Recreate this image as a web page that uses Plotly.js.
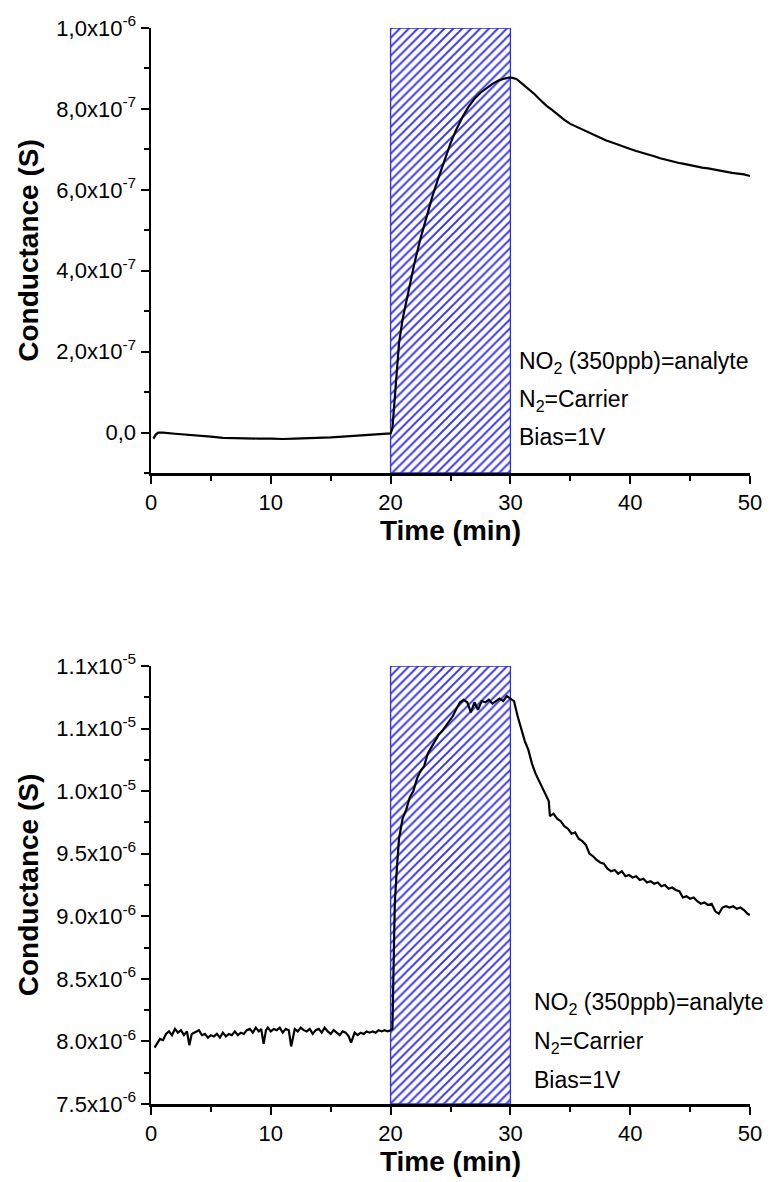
<!DOCTYPE html>
<html>
<head>
<meta charset="utf-8">
<script src="https://cdn.plot.ly/plotly-3.0.1.min.js"></script>
<style>html,body{margin:0;padding:0;background:#fff;}#chart{width:774px;height:1182px;}</style>
</head>
<body>
<div id="chart"></div>
<script>
// ---------- data ----------
const exposureStart = 20;
const exposureEnd = 30;

const topTime = [0.2,0.4,0.6,1,2,3,4,5,6,7,8,9,10,11,12,13,14,15,16,17,18,19,19.6,20.0,20.15,20.25,20.35,20.5,20.7,21,21.5,22,22.5,23,23.5,24,24.5,25,25.5,26,26.5,27,27.5,28,28.5,29,29.5,30,30.5,31,31.5,32,32.5,33,33.5,34,34.5,35,35.5,36,36.5,37,37.5,38,38.5,39,39.5,40,40.5,41,41.5,42,42.5,43,43.5,44,44.5,45,45.5,46,46.5,47,47.5,48,48.5,49,49.5,50];
// units of 1e-7 S
const topValues = [-0.15,-0.05,0.0,0.0,-0.03,-0.05,-0.08,-0.1,-0.13,-0.14,-0.14,-0.15,-0.15,-0.16,-0.15,-0.14,-0.14,-0.12,-0.1,-0.08,-0.06,-0.04,-0.03,-0.02,0.1,0.5,1.0,1.6,2.2,2.8,3.5,4.2,4.8,5.35,5.85,6.3,6.75,7.15,7.5,7.8,8.05,8.25,8.4,8.52,8.62,8.7,8.75,8.78,8.74,8.62,8.5,8.37,8.22,8.08,7.97,7.84,7.73,7.63,7.56,7.48,7.42,7.35,7.29,7.22,7.17,7.11,7.05,7.01,6.96,6.92,6.88,6.83,6.78,6.74,6.71,6.67,6.64,6.61,6.57,6.55,6.53,6.5,6.47,6.45,6.42,6.4,6.38,6.34];

const botTime = [0.3,0.5,0.75,1.0,1.25,1.5,1.75,2.0,2.25,2.5,2.75,3.0,3.2,3.4,3.75,4.0,4.25,4.5,4.75,5.0,5.25,5.5,5.75,6.0,6.25,6.5,6.75,7.0,7.25,7.5,7.75,8.0,8.25,8.5,8.75,9.0,9.2,9.4,9.6,9.75,10.0,10.25,10.5,10.75,11.0,11.25,11.5,11.7,12.0,12.25,12.5,12.75,13.0,13.25,13.5,13.75,14.0,14.25,14.5,14.75,15.0,15.25,15.5,15.75,16.0,16.25,16.5,16.7,17.0,17.25,17.5,17.75,18.0,18.25,18.5,18.75,19.0,19.25,19.5,19.75,20.0,20.15,
20.25,20.35,20.5,20.7,21.0,21.3,21.6,21.9,22.2,22.5,22.8,23.1,23.4,23.7,24.0,24.3,24.6,24.9,25.2,25.5,25.8,26.1,26.4,26.7,27.0,27.3,27.6,27.9,28.2,28.5,28.8,29.1,29.4,29.7,30.0,
30.3,30.6,30.9,31.2,31.5,31.8,32.1,32.4,32.7,33.0,33.2,33.3,33.6,33.9,34.2,34.5,34.8,35.1,35.4,35.7,36.0,36.3,36.6,36.9,37.2,37.5,37.8,38.1,38.4,38.7,39.0,39.3,39.6,39.9,40.2,40.5,40.8,41.1,41.4,41.7,42.0,42.3,42.6,42.9,43.2,43.5,43.8,44.1,44.4,44.7,45.0,45.3,45.6,45.9,46.2,46.5,46.8,47.1,47.4,47.7,48.0,48.3,48.6,48.9,49.2,49.5,49.8,50.0];
// units of 1e-6 S
const botValues = [7.95,7.98,8.02,8.01,8.06,8.08,8.05,8.10,8.07,8.09,8.05,8.08,7.97,8.06,8.08,8.09,8.05,8.06,8.03,8.05,8.04,8.06,8.03,8.07,8.04,8.06,8.05,8.08,8.05,8.07,8.06,8.09,8.10,8.07,8.11,8.08,8.10,7.98,8.09,8.11,8.08,8.10,8.09,8.11,8.07,8.10,8.09,7.96,8.10,8.08,8.11,8.09,8.08,8.10,8.06,8.09,8.10,8.07,8.11,8.08,8.06,8.09,8.07,8.05,8.08,8.07,8.04,7.99,8.07,8.05,8.07,8.06,8.08,8.07,8.08,8.07,8.09,8.08,8.09,8.08,8.09,8.10,
8.6,9.1,9.35,9.62,9.78,9.85,9.95,10.0,10.1,10.16,10.2,10.3,10.35,10.4,10.45,10.48,10.52,10.56,10.6,10.66,10.71,10.73,10.71,10.63,10.71,10.65,10.72,10.71,10.73,10.70,10.72,10.74,10.72,10.76,10.74,
10.72,10.6,10.5,10.4,10.33,10.22,10.14,10.08,10.02,9.96,9.92,9.8,9.82,9.78,9.76,9.72,9.70,9.66,9.67,9.62,9.6,9.57,9.5,9.48,9.45,9.43,9.42,9.38,9.36,9.37,9.34,9.36,9.32,9.33,9.31,9.32,9.29,9.3,9.27,9.28,9.26,9.27,9.24,9.25,9.22,9.23,9.21,9.2,9.15,9.16,9.14,9.15,9.12,9.1,9.11,9.09,9.1,9.04,9.02,9.07,9.08,9.07,9.08,9.06,9.07,9.05,9.02,9.01];

const topRange = [-1e-7, 1.0e-6];
const botRange = [7.5e-6, 1.1e-5];

const topTickVals = [0, 2e-7, 4e-7, 6e-7, 8e-7, 1e-6];
const topTickText = ['0,0','2,0x10<sup>-7</sup>','4,0x10<sup>-7</sup>','6,0x10<sup>-7</sup>','8,0x10<sup>-7</sup>','1,0x10<sup>-6</sup>'];
const botTickVals = [7.5e-6, 8.0e-6, 8.5e-6, 9.0e-6, 9.5e-6, 1.0e-5, 1.05e-5, 1.1e-5];
const botTickText = ['7.5x10<sup>-6</sup>','8.0x10<sup>-6</sup>','8.5x10<sup>-6</sup>','9.0x10<sup>-6</sup>','9.5x10<sup>-6</sup>','1.0x10<sup>-5</sup>','1.1x10<sup>-5</sup>','1.1x10<sup>-5</sup>'];
const xTickVals = [0, 10, 20, 30, 40, 50];

const noteLines = ['NO<sub>2</sub> (350ppb)=analyte', 'N<sub>2</sub>=Carrier', 'Bias=1V'];

// ---------- drawing ----------
const FONT = 'Arial, "Liberation Sans", sans-serif';
const hatchColor = '#2a2aff';

function hatchBar(range, xa, ya) {
  return {
    type: 'bar', xaxis: xa, yaxis: ya,
    x: [(exposureStart + exposureEnd) / 2],
    width: [exposureEnd - exposureStart],
    base: [range[0]],
    y: [range[1] - range[0]],
    marker: {color: 'white', line: {color: hatchColor, width: 1.3},
      pattern: {shape: '/', fgcolor: hatchColor, bgcolor: 'white', size: 6.3, solidity: 0.3}},
    hoverinfo: 'skip', showlegend: false
  };
}

const traces = [
  hatchBar(topRange, 'x', 'y'),
  {type: 'scatter', mode: 'lines', x: topTime, y: topValues.map(v => v * 1e-7), xaxis: 'x', yaxis: 'y',
   line: {color: 'black', width: 2.2}, showlegend: false},
  hatchBar(botRange, 'x2', 'y2'),
  {type: 'scatter', mode: 'lines', x: botTime, y: botValues.map(v => v * 1e-6), xaxis: 'x2', yaxis: 'y2',
   line: {color: 'black', width: 2.2}, showlegend: false}
];

const W = 774, H = 1182;
const xDom = [151 / W, 750 / W];
const topDom = [1 - 473 / H, 1 - 28 / H];
const botDom = [1 - 1104 / H, 1 - 666 / H];

function xAxis(anchor) {
  return {
    domain: xDom, anchor: anchor, range: [0, 50],
    tickmode: 'array', tickvals: xTickVals,
    ticks: 'outside', ticklen: 8, tickwidth: 2, tickcolor: 'black',
    minor: {tickmode: 'linear', tick0: 0, dtick: 5, ticks: 'outside', ticklen: 5, tickwidth: 2, tickcolor: 'black', showgrid: false},
    showline: true, linewidth: 2.5, linecolor: 'black', showgrid: false, zeroline: false,
    tickfont: {family: FONT, size: 22, color: 'black'},
    title: {text: '<b>Time (min)</b>', font: {family: FONT, size: 28, color: 'black'}, standoff: 0}
  };
}
function yAxis(anchor, dom, range, vals, text, tick0, minorStep) {
  return {
    domain: dom, anchor: anchor, range: range,
    tickmode: 'array', tickvals: vals, ticktext: text,
    ticks: 'outside', ticklen: 8, tickwidth: 2, tickcolor: 'black',
    minor: {tickmode: 'linear', tick0: tick0, dtick: minorStep, ticks: 'outside', ticklen: 5, tickwidth: 2, tickcolor: 'black', showgrid: false},
    showline: true, linewidth: 2.5, linecolor: 'black', showgrid: false, zeroline: false,
    tickfont: {family: FONT, size: 22, color: 'black'},
    title: {text: '<b>Conductance (S)</b>', font: {family: FONT, size: 28, color: 'black'}, standoff: 10}
  };
}

const topNoteX = 30.55, botNoteX = 31.8;
const topNoteY = [362, 400, 437], botNoteY = [1003, 1042, 1080];
const annotations = [];
noteLines.forEach((t, i) => {
  annotations.push({xref: 'x', yref: 'paper', x: topNoteX, y: 1 - topNoteY[i] / H, text: t, showarrow: false,
    xanchor: 'left', yanchor: 'middle', font: {family: FONT, size: 23, color: 'black'}});
  annotations.push({xref: 'x2', yref: 'paper', x: botNoteX, y: 1 - botNoteY[i] / H, text: t, showarrow: false,
    xanchor: 'left', yanchor: 'middle', font: {family: FONT, size: 23, color: 'black'}});
});

const layout = {
  width: W, height: H,
  margin: {l: 0, r: 0, t: 0, b: 0},
  paper_bgcolor: 'white', plot_bgcolor: 'white',
  showlegend: false, bargap: 0,
  font: {family: FONT, color: 'black'},
  xaxis: xAxis('y'),
  yaxis: yAxis('x', topDom, topRange, topTickVals, topTickText, -1e-7, 1e-7),
  xaxis2: xAxis('y2'),
  yaxis2: yAxis('x2', botDom, botRange, botTickVals, botTickText, 7.5e-6, 2.5e-7),
  annotations: annotations
};

Plotly.newPlot('chart', traces, layout, {displayModeBar: false, staticPlot: true});
</script>
</body>
</html>
